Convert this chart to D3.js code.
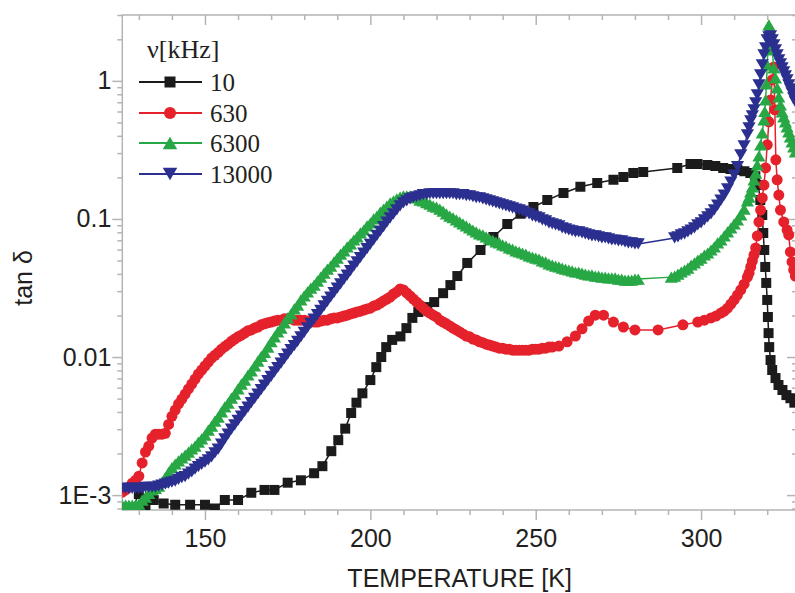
<!DOCTYPE html>
<html>
<head>
<meta charset="utf-8">
<script src="https://cdn.jsdelivr.net/npm/d3@7"></script>
<style>
  html, body { margin: 0; padding: 0; background: #ffffff; }
  svg { display: block; }
</style>
</head>
<body>
<svg id="chart" width="795" height="593"></svg>
<script>
// Measurement frequencies (kHz) shown in the legend
const frequencies = ["10", "630", "6300", "13000"];

// tan δ versus temperature [K], one array of [T, tanδ] pairs per frequency
const tan10 = [
  [125,0.0008],[128,0.0008],[130,0.00102],[132,0.00082],[134.5,0.00092],[137.5,0.00087],[141,0.00085],
  [145.5,0.00085],[150,0.00085],[153,0.0008],[156,0.00092],[160,0.00092],[164,0.00104],[168,0.00109],
  [171,0.00109],[175,0.00123],[179,0.00128],[183,0.00144],[185.5,0.00162],[188.2,0.00208],[190.3,0.0025],
  [192.4,0.00303],[194.2,0.00393],[195.8,0.00467],[197.6,0.00546],[200,0.00681],[201.8,0.00845],
  [203.3,0.01],[204.8,0.0118],[206.6,0.0133],[209.1,0.0141],[210.9,0.0162],[212.7,0.0192],[214.5,0.0212],
  [217.2,0.023],[219.3,0.025],[222,0.029],[224.2,0.0332],[226.3,0.0386],[229.3,0.048],[233.3,0.0596],
  [237.2,0.0741],[241.4,0.092],[245.4,0.109],[249.3,0.122],[253.5,0.137],[258.4,0.154],[263.5,0.171],
  [268.6,0.182],[273.5,0.192],[276.5,0.201],[279.5,0.215],[282.5,0.219],[292.8,0.234],[296.8,0.25],
  [298.9,0.25],[301.9,0.246],[304.3,0.242],[306.7,0.234],[308.9,0.23],[311,0.226],[313.1,0.222],
  [314.9,0.215],[316.4,0.204],[317.3,0.176],[317.9,0.137],[318.5,0.107],[318.8,0.0792],[319.1,0.0596],
  [319.4,0.0449],[319.7,0.0344],[320,0.0259],[320.2,0.0195],[320.4,0.0149],[320.6,0.0118],[321,0.00951],
  [321.5,0.00805],[322.5,0.00704],[323.4,0.00627],[324.6,0.00577],[325.8,0.0053],[327,0.00503],[328.2,0.00467]
];

const tan630 = [
  [125,0.00105],[126,0.00109],[127,0.00114],[128,0.00122],[129,0.00128],[130,0.00137],[131,0.00171],
  [132,0.00205],[133,0.00226],[134,0.00259],[135,0.00276],[136,0.00276],[137,0.00276],[138,0.0028],
  [139,0.00325],[140,0.00372],[141,0.00413],[142,0.00458],[143,0.00496],[144,0.00539],[145,0.00587],
  [146,0.00637],[147,0.00693],[148,0.00753],[149,0.00805],[150,0.00861],[151,0.0092],[152,0.00983],
  [153,0.0103],[154,0.0108],[155,0.0114],[156,0.0119],[157,0.0124],[158,0.013],[159,0.0135],[160,0.014],
  [161,0.0144],[162,0.0149],[163,0.0155],[164,0.0157],[165,0.0162],[166,0.0165],[167,0.0171],[168,0.0174],
  [169,0.0177],[170,0.0179],[171,0.0182],[172,0.0185],[173,0.0185],[174,0.0189],[175,0.0189],[176,0.0189],
  [177,0.0185],[178,0.0185],[179,0.0185],[180,0.0185],[181,0.0182],[182,0.0182],[183,0.0179],[184,0.0179],
  [185,0.0182],[186,0.0185],[187,0.0185],[188,0.0189],[189,0.0192],[190,0.0192],[191,0.0195],[192,0.0198],
  [193,0.0201],[194,0.0205],[195,0.0208],[196,0.0212],[197,0.0215],[198,0.0219],[199,0.0223],[200,0.0226],
  [201,0.0234],[202,0.0238],[203,0.0246],[204,0.0255],[205,0.0263],[206,0.0272],[207,0.0286],[208,0.0296],
  [209,0.0311],[210,0.0306],[211,0.0291],[212,0.0277],[213,0.0263],[214,0.025],[215,0.0238],[216,0.0226],
  [217,0.0215],[218,0.0208],[219,0.0201],[220,0.0195],[221,0.0185],[222,0.0179],[223,0.0174],[224,0.0168],
  [225,0.0162],[226,0.0157],[227,0.0152],[228,0.0147],[229,0.0142],[230,0.014],[231,0.0135],[232,0.0133],
  [233,0.0129],[234,0.0127],[235,0.0124],[236,0.0122],[237,0.012],[238,0.0118],[239,0.0116],[240,0.0116],
  [241,0.0114],[242,0.0114],[243,0.0112],[244,0.0112],[245,0.0112],[246,0.0112],[247,0.0112],[248,0.0112],
  [249,0.0114],[250,0.0114],[251,0.0114],[252,0.0116],[253,0.0116],[254,0.0118],[255,0.0118],[257,0.012],
  [259.5,0.0129],[262,0.0142],[264,0.016],[266,0.0182],[268,0.0201],[270.5,0.0201],[273.5,0.0179],
  [276.5,0.0165],[280,0.0157],[287,0.0157],[294.5,0.0171],[299,0.0179],[301,0.0185],[303,0.0192],
  [304.5,0.0198],[306,0.0208],[307,0.0215],[308,0.0226],[309,0.0242],[310,0.0259],[311,0.0281],[312,0.0306],
  [313,0.0337],[314,0.0379],[314.5,0.0405],[315,0.0449],[315.5,0.0496],[316,0.0548],[316.5,0.0616],
  [317,0.0753],[317.5,0.0952],[318,0.116],[318.5,0.142],[319,0.176],[319.5,0.234],[320,0.344],[320.5,0.505],
  [321,0.728],[321.5,1.017],[322,1.263],[322.3,0.617],[322.6,0.268],[323,0.192],[323.5,0.149],[324,0.116],
  [325,0.0952],[326,0.0832],[326.5,0.0766],[327,0.0577],[327.5,0.0488],[328,0.0427],[328.5,0.0386]
];

const tan6300 = [
  [125,0.000846],[126,0.000846],[127,0.000846],[128,0.000846],[129,0.000846],[130,0.00086],[131,0.00092],
  [132,0.000967],[133,0.00103],[134,0.00109],[135,0.00112],[136,0.00116],[137,0.00124],[138,0.00134],
  [139,0.00146],[140,0.00158],[141,0.00168],[142,0.00177],[143,0.00186],[144,0.00195],[145,0.00205],
  [146,0.00216],[147,0.00226],[148,0.00242],[149,0.00255],[150,0.00272],[151,0.00296],[152,0.00316],
  [153,0.00343],[154,0.00367],[155,0.004],[156,0.00435],[157,0.00464],[158,0.00504],[159,0.00539],
  [160,0.00587],[161,0.00637],[162,0.00681],[163,0.00741],[164,0.00792],[165,0.00861],[166,0.00935],
  [167,0.0101],[168,0.0108],[169,0.0118],[170,0.0129],[171,0.014],[172,0.0152],[173,0.0162],[174,0.0177],
  [175,0.0192],[176,0.0205],[177,0.0223],[178,0.0238],[179,0.0259],[180,0.0277],[181,0.0296],[182,0.0315],
  [183,0.0332],[184,0.0355],[185,0.0379],[186,0.0405],[187,0.0433],[188,0.0456],[189,0.0488],[190,0.0521],
  [191,0.0557],[192,0.0587],[193,0.0627],[194,0.066],[195,0.0704],[196,0.0741],[197,0.0792],[198,0.0832],
  [199,0.089],[200,0.0935],[201,0.1],[202,0.105],[203,0.112],[204,0.118],[205,0.124],[206,0.131],[207,0.135],
  [208,0.14],[209,0.144],[210,0.147],[211,0.147],[212,0.147],[213,0.144],[214,0.142],[215,0.137],[216,0.135],
  [217,0.131],[218,0.128],[219,0.124],[220,0.122],[221,0.118],[222,0.114],[223,0.109],[224,0.105],[225,0.102],
  [226,0.0984],[227,0.0952],[228,0.092],[229,0.089],[230,0.086],[231,0.0832],[232,0.0805],[233,0.0779],
  [234,0.0766],[235,0.0741],[236,0.0716],[237,0.0704],[238,0.0681],[239,0.067],[240,0.0648],[241,0.0637],
  [242,0.0616],[243,0.0606],[244,0.0587],[245,0.0577],[246,0.0567],[247,0.0557],[248,0.0539],[249,0.053],
  [250,0.0521],[251,0.0513],[252,0.0496],[253,0.0488],[254,0.0472],[255,0.0464],[256,0.0456],[257,0.0449],
  [258,0.0441],[259,0.0433],[260,0.0427],[261,0.042],[262,0.0413],[263,0.0413],[264,0.0405],[265,0.0399],
  [266,0.0393],[267,0.0393],[268,0.0386],[269,0.0386],[270,0.0379],[271,0.0379],[272,0.0374],[273,0.0374],
  [274,0.0374],[275,0.0367],[276,0.0367],[277,0.0361],[278,0.0361],[279,0.0361],[280,0.0367],[281,0.0367],
  [291,0.0379],[292,0.0386],[293,0.0399],[294,0.0413],[295,0.0427],[296,0.0441],[297,0.0464],[298,0.048],
  [299,0.0504],[300,0.0521],[301,0.0548],[302,0.0567],[303,0.0596],[304,0.0627],[305,0.067],[306,0.0704],
  [307,0.0753],[308,0.0805],[309,0.086],[310,0.092],[311,0.0984],[312,0.107],[313,0.118],[314,0.135],
  [314.5,0.144],[315,0.157],[315.5,0.171],[316,0.192],[316.5,0.215],[317,0.246],[317.5,0.286],[318,0.344],
  [318.5,0.42],[319,0.522],[319.25,0.6],[319.5,0.728],[319.75,0.95],[320,1.306],[320.25,1.85],[320.5,2.546],
  [320.75,2.35],[321,2.154],[321.5,1.677],[322,1.242],[322.5,1.05],[323,0.89],[323.5,0.766],[324,0.67],
  [324.5,0.596],[325,0.548],[325.5,0.505],[326,0.464],[326.5,0.427],[327,0.393],[327.5,0.361],[328,0.332],
  [328.5,0.306]
];

const tan13000 = [
  [125,0.00112],[126,0.00112],[127,0.00112],[128,0.00112],[129,0.00112],[130,0.00112],[131,0.00112],
  [132,0.00114],[133,0.00114],[134,0.00114],[135,0.00114],[136,0.00116],[137,0.00118],[138,0.0012],
  [139,0.00122],[140,0.00124],[141,0.00126],[142,0.0013],[143,0.00134],[144,0.00136],[145,0.00142],
  [146,0.00147],[147,0.00154],[148,0.00161],[149,0.00167],[150,0.00173],[151,0.0018],[152,0.00189],
  [153,0.00202],[154,0.00215],[155,0.00234],[156,0.00255],[157,0.00277],[158,0.003],[159,0.00323],
  [160,0.00348],[161,0.00374],[162,0.00403],[163,0.00434],[164,0.00467],[165,0.00502],[166,0.0054],
  [167,0.00582],[168,0.00626],[169,0.00674],[170,0.00725],[171,0.0078],[172,0.0084],[173,0.00904],
  [174,0.00973],[175,0.0105],[176,0.0113],[177,0.0121],[178,0.013],[179,0.014],[180,0.0151],[181,0.0163],
  [182,0.0175],[183,0.0188],[184,0.0203],[185,0.0218],[186,0.0235],[187,0.0253],[188,0.0272],[189,0.0293],
  [190,0.0315],[191,0.0339],[192,0.0365],[193,0.0392],[194,0.0422],[195,0.0455],[196,0.0489],[197,0.0526],
  [198,0.0567],[199,0.061],[200,0.0656],[201,0.0706],[202,0.076],[203,0.0818],[204,0.088],[205,0.0947],
  [206,0.1017],[207,0.1087],[208,0.1162],[209,0.1242],[210,0.1308],[211,0.1353],[212,0.1399],[213,0.1424],
  [214,0.1448],[215,0.1473],[216,0.1498],[217,0.1498],[218,0.1523],[219,0.1523],[220,0.1523],[221,0.1523],
  [222,0.1523],[223,0.1523],[224,0.1523],[225,0.1523],[226,0.1498],[227,0.1498],[228,0.1498],[229,0.1473],
  [230,0.1473],[231,0.1448],[232,0.1424],[233,0.1424],[234,0.1399],[235,0.1376],[236,0.1353],[237,0.133],
  [238,0.1308],[239,0.1286],[240,0.1265],[241,0.1242],[242,0.1222],[243,0.1201],[244,0.1181],[245,0.1162],
  [246,0.1142],[247,0.1105],[248,0.1087],[249,0.1051],[250,0.1034],[251,0.1017],[252,0.0984],[253,0.0968],
  [254,0.0936],[255,0.092],[256,0.0905],[257,0.089],[258,0.0861],[259,0.0847],[260,0.0832],[261,0.0819],
  [262,0.0805],[263,0.0805],[264,0.0792],[265,0.0779],[266,0.0766],[267,0.0753],[268,0.0753],[269,0.0741],
  [270,0.0729],[271,0.0729],[272,0.0717],[273,0.0704],[274,0.0704],[275,0.0693],[276,0.0693],[277,0.0681],
  [278,0.067],[279,0.067],[280,0.0659],[281,0.0659],[292,0.0729],[293,0.0741],[294,0.0766],[295,0.0779],
  [296,0.0805],[297,0.0832],[298,0.0861],[299,0.0905],[300,0.0936],[301,0.0984],[302,0.1034],[303,0.1087],
  [304,0.1162],[305,0.126],[306,0.137],[307,0.149],[308,0.165],[309,0.185],[310,0.208],[311,0.239],
  [312,0.291],[313,0.338],[314,0.406],[314.5,0.456],[315,0.513],[315.5,0.557],[316,0.617],[316.5,0.693],
  [317,0.792],[317.5,0.936],[318,1.105],[318.5,1.306],[319,1.543],[319.5,1.735],[320,1.982],[320.5,2.083],
  [321,2.118],[321.5,1.982],[322,1.823],[322.5,1.677],[323,1.543],[323.5,1.42],[324,1.328],[324.5,1.242],
  [325,1.162],[325.5,1.087],[326,1.017],[326.5,0.936],[327,0.875],[327.5,0.819],[328,0.753],[328.5,0.704]
];

// Axis ticks and their labels
const xMajorTicks = [150, 200, 250, 300];
const xMinorTicks = [130, 140, 160, 170, 180, 190, 210, 220, 230, 240, 260, 270, 280, 290, 310, 320];
const yMajorTicks = [0.001, 0.01, 0.1, 1];
const yTickLabels = ["1E-3", "0.01", "0.1", "1"];

const W = 795, H = 593;
const plot = { left: 122.3, right: 797, top: 15, bottom: 510 };

const x = d3.scaleLinear().domain([125, 329]).range([plot.left, plot.right]);
const y = d3.scaleLog().domain([7.8e-4, 3.0]).range([plot.bottom, plot.top]);

// minor log ticks: 2..9 times each decade, inside the domain
const yMinorTicks = [];
[-4, -3, -2, -1, 0].forEach(e => {
  for (let k = 2; k <= 9; k++) {
    const v = k * Math.pow(10, e);
    if (v >= y.domain()[0] && v <= y.domain()[1]) yMinorTicks.push(v);
  }
});

const axisColor = "#b4b4b4";
const textColor = "#231f20";
const sansFont = "'Liberation Sans', Arial, Helvetica, sans-serif";
const serifFont = "'Liberation Serif', 'Times New Roman', serif";

const svg = d3.select("#chart");
svg.append("rect").attr("width", W).attr("height", H).attr("fill", "#ffffff");

function styleAxis(g) {
  g.select(".domain").remove();
  g.selectAll(".tick line").attr("stroke", axisColor).attr("stroke-width", 1.5);
  g.selectAll(".tick text")
    .attr("fill", textColor)
    .style("font-family", sansFont)
    .style("font-size", "25px");
}

// bottom axis (ticks outward) with labels
svg.append("g").attr("transform", `translate(0,${plot.bottom})`)
  .call(d3.axisBottom(x).tickValues(xMajorTicks).tickSize(10).tickPadding(9).tickFormat(d3.format("d")))
  .call(styleAxis);
svg.append("g").attr("transform", `translate(0,${plot.bottom})`)
  .call(d3.axisBottom(x).tickValues(xMinorTicks).tickSize(5).tickFormat(""))
  .call(styleAxis);

// top axis (ticks inward)
svg.append("g").attr("transform", `translate(0,${plot.top})`)
  .call(d3.axisTop(x).tickValues(xMajorTicks).tickSize(-10).tickFormat(""))
  .call(styleAxis);
svg.append("g").attr("transform", `translate(0,${plot.top})`)
  .call(d3.axisTop(x).tickValues(xMinorTicks).tickSize(-5).tickFormat(""))
  .call(styleAxis);

// left axis (ticks outward) with labels
svg.append("g").attr("transform", `translate(${plot.left},0)`)
  .call(d3.axisLeft(y).tickValues(yMajorTicks).tickSize(10).tickPadding(1)
    .tickFormat((d, i) => yTickLabels[i]))
  .call(styleAxis);
svg.append("g").attr("transform", `translate(${plot.left},0)`)
  .call(d3.axisLeft(y).tickValues(yMinorTicks).tickSize(5).tickFormat(""))
  .call(styleAxis);

// right axis (ticks inward)
svg.append("g").attr("transform", `translate(${plot.right},0)`)
  .call(d3.axisRight(y).tickValues(yMajorTicks).tickSize(-10).tickFormat(""))
  .call(styleAxis);
svg.append("g").attr("transform", `translate(${plot.right},0)`)
  .call(d3.axisRight(y).tickValues(yMinorTicks).tickSize(-5).tickFormat(""))
  .call(styleAxis);

// frame
svg.append("rect")
  .attr("x", plot.left).attr("y", plot.top)
  .attr("width", plot.right - plot.left).attr("height", plot.bottom - plot.top)
  .attr("fill", "none").attr("stroke", axisColor).attr("stroke-width", 1.5);

// axis titles
svg.append("text")
  .attr("x", (plot.left + plot.right) / 2).attr("y", 587)
  .attr("text-anchor", "middle")
  .attr("fill", textColor)
  .style("font-family", sansFont).style("font-size", "25px")
  .text("TEMPERATURE [K]");

svg.append("text")
  .attr("transform", "translate(32,278) rotate(-90)")
  .attr("text-anchor", "middle")
  .attr("fill", textColor)
  .style("font-family", sansFont).style("font-size", "25px")
  .text("tan δ");

// marker shapes
function markerPath(shape, k) {
  const s = k || 1;
  switch (shape) {
    case "square": { const a = 5.0 * s; return `M${-a},${-a}H${a}V${a}H${-a}Z`; }
    case "circle": { const r = 5.5 * s; return `M${r},0A${r},${r} 0 1,1 ${-r},0A${r},${r} 0 1,1 ${r},0Z`; }
    case "up": { const a = 6.6 * s, h = 5.6 * s; return `M0,${-h}L${a},${h}L${-a},${h}Z`; }
    case "down": { const a = 6.6 * s, h = 5.6 * s; return `M0,${h}L${a},${-h}L${-a},${-h}Z`; }
  }
}

const series = [
  { label: frequencies[0], data: tan10,    color: "#1b1b1b", shape: "square" },
  { label: frequencies[1], data: tan630,   color: "#e5222b", shape: "circle" },
  { label: frequencies[2], data: tan6300,  color: "#28a745", shape: "up" },
  { label: frequencies[3], data: tan13000, color: "#2b2f8f", shape: "down" }
];

svg.append("clipPath").attr("id", "plot-clip")
  .append("rect")
  .attr("x", plot.left).attr("y", plot.top)
  .attr("width", plot.right - plot.left).attr("height", plot.bottom - plot.top);

const dataLayer = svg.append("g").attr("clip-path", "url(#plot-clip)");
const line = d3.line().x(d => x(d[0])).y(d => y(d[1]));

series.forEach(s => {
  const g = dataLayer.append("g");
  g.append("path")
    .attr("d", line(s.data))
    .attr("fill", "none")
    .attr("stroke", s.color)
    .attr("stroke-width", 1.5);
  g.selectAll("path.marker")
    .data(s.data)
    .join("path")
    .attr("class", "marker")
    .attr("transform", d => `translate(${x(d[0])},${y(d[1])})`)
    .attr("d", markerPath(s.shape))
    .attr("fill", s.color);
});

// legend
const legend = svg.append("g");
legend.append("text")
  .attr("x", 147).attr("y", 58)
  .attr("fill", textColor)
  .style("font-family", serifFont).style("font-size", "26px")
  .text("ν[kHz]");

const rowY = [82, 113, 143, 174];
series.forEach((s, i) => {
  const row = legend.append("g").attr("transform", `translate(0,${rowY[i]})`);
  row.append("line")
    .attr("x1", 139).attr("x2", 202).attr("y1", 0).attr("y2", 0)
    .attr("stroke", s.color).attr("stroke-width", 2);
  row.append("path")
    .attr("transform", "translate(170,0)")
    .attr("d", markerPath(s.shape, 1.1))
    .attr("fill", s.color);
  row.append("text")
    .attr("x", 210).attr("y", 0).attr("dy", "0.35em")
    .attr("fill", textColor)
    .style("font-family", serifFont).style("font-size", "25px")
    .text(s.label);
});
</script>
</body>
</html>
